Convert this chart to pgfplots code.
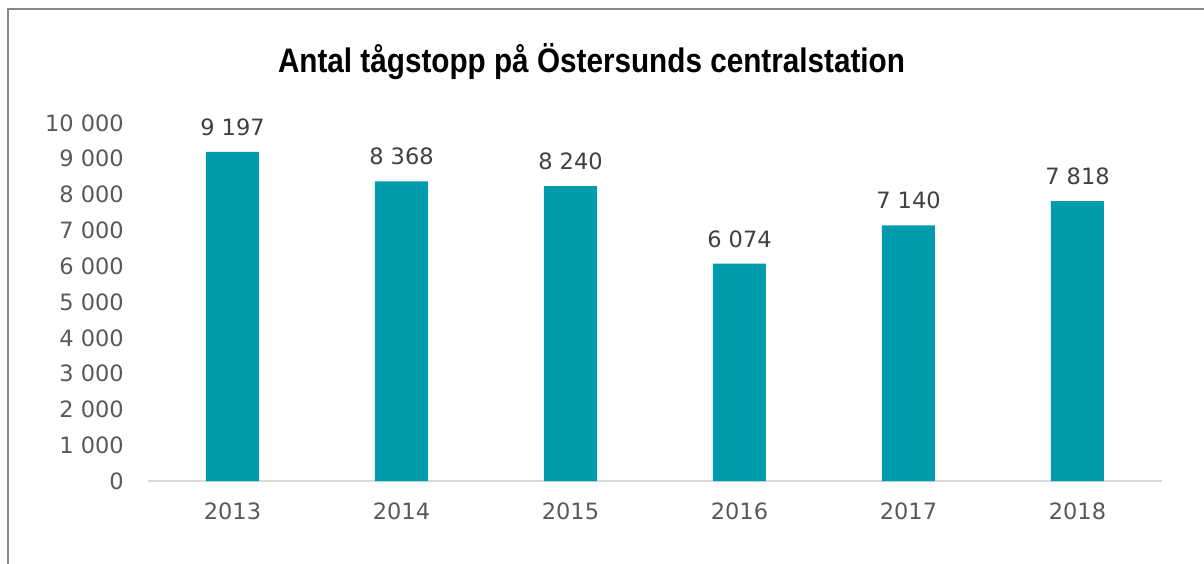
\documentclass[border=0pt]{standalone}
\usepackage{pgfplots}
\pgfplotsset{compat=1.18}
\usepackage{fontspec}
\setmainfont{DejaVu Sans}
\newfontfamily\titlefont{Liberation Sans}
\definecolor{barc}{RGB}{0,156,174}
\definecolor{tickc}{RGB}{89,89,89}
\definecolor{labc}{RGB}{64,64,64}
\definecolor{axc}{RGB}{217,217,217}
\definecolor{bordc}{RGB}{137,137,137}
\begin{document}
\begin{tikzpicture}
\path[use as bounding box] (0pt,0pt) rectangle (1204pt,-563pt);
\draw[bordc, line width=2pt] (8pt,-570pt) -- (8pt,-9pt) -- (1210pt,-9pt);
\node[anchor=base] at (591.5pt,-72pt) {\resizebox{627pt}{\height}{\titlefont\fontsize{34pt}{40pt}\selectfont\bfseries Antal tågstopp på Östersunds centralstation}};
\begin{axis}[
  at={(148pt,-481pt)}, anchor=south west,
  scale only axis, width=1014pt, height=358pt,
  xmin=-0.5, xmax=5.5, ymin=0, ymax=10000,
  axis x line*=bottom, axis y line*=left,
  y axis line style={draw=none},
  x axis line style={draw=axc, line width=1.5pt},
  tick style={draw=none}, major tick length=0pt,
  xtick=data, xticklabels={2013,2014,2015,2016,2017,2018},
  ytick={0,1000,...,10000},
  scaled y ticks=false,
  /pgf/number format/assume math mode=true,
  /pgf/number format/1000 sep={\ },
  yticklabel style={font=\fontsize{22.5pt}{27pt}\selectfont, color=tickc, anchor=east, inner sep=0pt, xshift=-24pt},
  xticklabel style={font=\fontsize{22.5pt}{27pt}\selectfont, color=tickc, anchor=north, inner sep=0pt, yshift=-22pt},
  ybar, bar width=53pt,
  nodes near coords,
  every node near coord/.append style={font=\fontsize{22.5pt}{27pt}\selectfont, color=labc, anchor=south, inner sep=0pt, yshift=16pt},
  clip=false,
]
\addplot[fill=barc, draw=none] coordinates {(0,9197) (1,8368) (2,8240) (3,6074) (4,7140) (5,7818)};
\end{axis}
\end{tikzpicture}
\end{document}
